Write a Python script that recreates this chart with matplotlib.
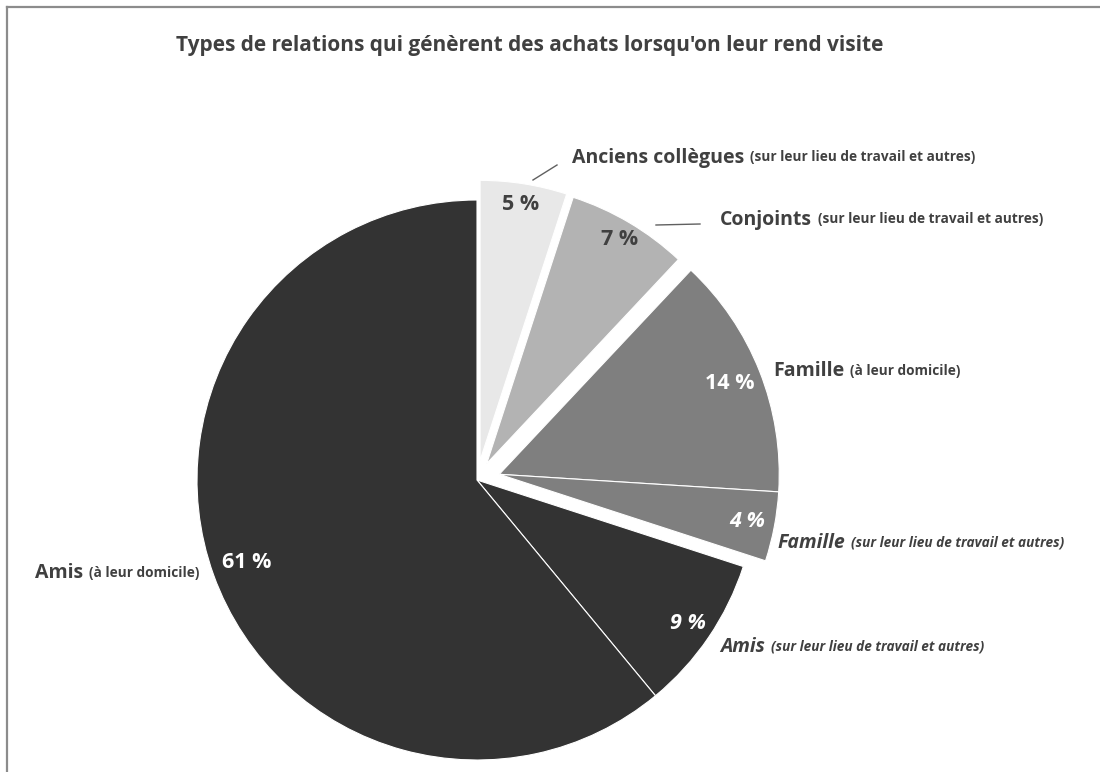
import numpy as np
import matplotlib
matplotlib.use("Agg")
from matplotlib import pyplot as plt

# data
titles = ["Anciens collègues", "Conjoints", "Famille", "Famille", "Amis", "Amis"]
details = ["(sur leur lieu de travail et autres)", "(sur leur lieu de travail et autres)",
           "(à leur domicile)", "(sur leur lieu de travail et autres)",
           "(sur leur lieu de travail et autres)", "(à leur domicile)"]
values = [5, 7, 14, 4, 9, 61]
colors = ["#e8e8e8", "#b3b3b3", "#7f7f7f", "#7f7f7f", "#333333", "#333333"]
pct_colors = ["#404040", "#404040", "white", "white", "white", "white"]
italic = [False, False, False, True, True, False]

# slices that move out together
groups = [1, 2, 3, 3, 0, 0]
group_explode = {0: 0.0, 1: 0.071, 2: 0.068, 3: 0.082}
pct_dist = [0.925, 0.93, 0.885, 0.9, 0.91, 0.875]

# label spots in pixels (left x, middle y), pixel y from the top
label_pos = [(572, 156), (720, 218), (773, 369), (777, 541), (720, 645), (35, 571)]

W, H = 1100, 772
plt.rcParams['font.family'] = ['Open Sans', 'DejaVu Sans']

fig = plt.figure(figsize=(W / 100, H / 100), dpi=100)
ax = fig.add_axes([0, 0, 1, 1])


def py(y):
    return H - y


cx, cy, R = 477, py(480), 280
wedges, _ = ax.pie(values, colors=colors, startangle=90, counterclock=False,
                   radius=R, center=(cx, cy), frame=True,
                   wedgeprops=dict(edgecolor="white", linewidth=0.8))
ax.set_xlim(0, W)
ax.set_ylim(0, H)
ax.set_aspect("equal")
ax.axis("off")

# explode by group
for g, frac in group_explode.items():
    ws = [w for w, gg in zip(wedges, groups) if gg == g]
    t1 = min(w.theta1 for w in ws)
    t2 = max(w.theta2 for w in ws)
    mid = np.deg2rad((t1 + t2) / 2)
    for w in ws:
        w.set_center((cx + frac * R * np.cos(mid), cy + frac * R * np.sin(mid)))

# percent labels
for w, v, c, it, d in zip(wedges, values, pct_colors, italic, pct_dist):
    mid = np.deg2rad((w.theta1 + w.theta2) / 2)
    x0, y0 = w.center
    ax.text(x0 + d * R * np.cos(mid), y0 + d * R * np.sin(mid), f"{v} %",
            ha="center", va="center", fontsize=15.5, fontweight="bold", color=c,
            style="italic" if it else "normal")

# category labels: big word, then small detail
fig.canvas.draw()
r = fig.canvas.get_renderer()
for (x, y), t, dt, it in zip(label_pos, titles, details, italic):
    st = "italic" if it else "normal"
    big = ax.text(x, py(y), t, ha="left", va="center_baseline", fontsize=14,
                  fontweight="bold", color="#404040", style=st)
    bb = big.get_window_extent(renderer=r)
    x1 = ax.transData.inverted().transform((bb.x1, bb.y0))[0]
    ax.text(x1 + 6, py(y), dt, ha="left", va="center_baseline", fontsize=9.8,
            fontweight="bold", color="#404040", style=st)

# leader lines
ax.plot([533, 557], [py(180), py(165)], color="#606060", lw=1)
ax.plot([656, 700], [py(225), py(224)], color="#606060", lw=1)

# title
ax.text(176, py(45), "Types de relations qui génèrent des achats lorsqu'on leur rend visite",
        ha="left", va="center", fontsize=15, fontweight="bold", color="#404040")

# frame, top and left only
ax.plot([7, W], [py(7), py(7)], color="#8c8c8c", lw=1.6, clip_on=False)
ax.plot([7, 7], [py(7), 0], color="#8c8c8c", lw=1.6, clip_on=False)

fig.savefig("out.png", dpi=100)
